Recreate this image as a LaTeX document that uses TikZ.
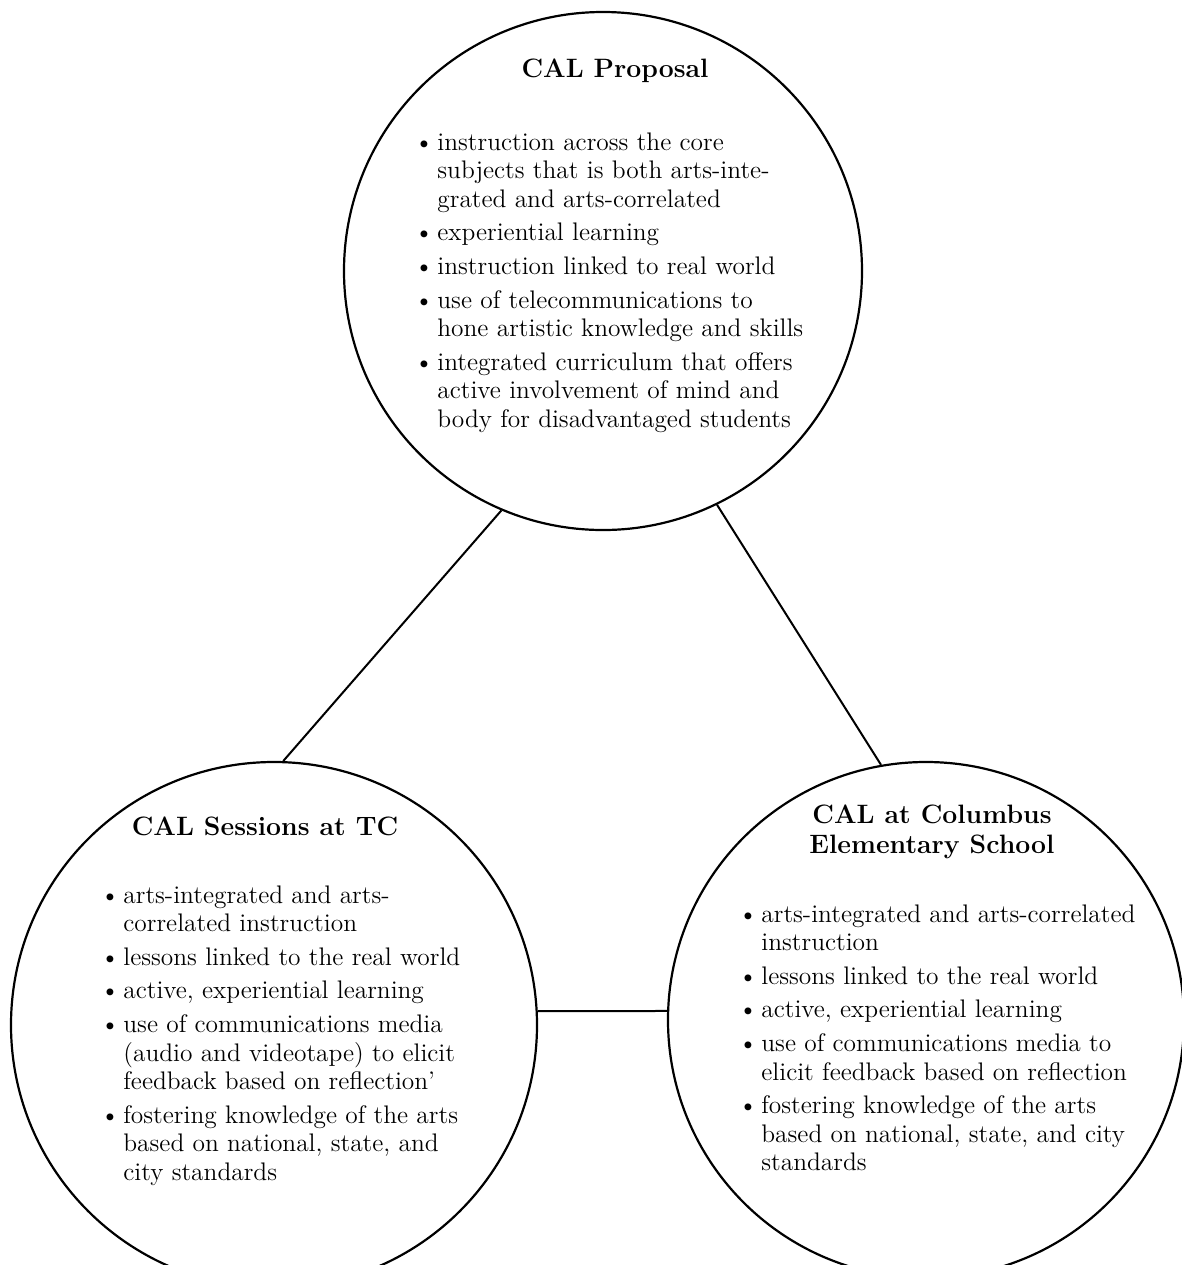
\documentclass[tikz,border=0pt]{standalone}
\begin{document}
\newcommand{\mybul}{\makebox[11.5pt][l]{\textbullet}}
\begin{tikzpicture}[x=0.5pt,y=-0.5pt,
  ring/.style={circle,draw,line width=1.1pt,inner sep=0pt},
  link/.style={line width=1pt},
  title/.style={font=\fontsize{13.3}{15}\selectfont\bfseries,anchor=base,inner sep=0pt},
  list/.style={font=\fontsize{12.7}{14.25}\selectfont,anchor=base west,inner sep=0pt}]
\useasboundingbox (0,0) rectangle (1182,1265);
\node[ring,minimum size=259pt] (top) at (603,271) {};
\node[ring,minimum size=263pt] (bl) at (274,1025) {};
\node[ring,minimum size=258pt] (br) at (926,1020) {};
\draw[link] (top.-113) -- (bl.88);
\draw[link] (top.-64) -- (br.100);
\draw[link] (bl.3) -- (br.178);
\node[title] (toptitle) at (615,77) {CAL Proposal};
\node[title] (bltitle) at (265,835) {CAL Sessions at TC};
\node[title] (brtitle) at (932,823) {\begin{tabular}[t]{@{}c@{}}CAL at Columbus\\ Elementary School\end{tabular}};
\node[list] (toplist) at (414,150) {\begin{tabular}[t]{@{}l@{}l@{}}
\mybul & instruction across the core\\
 & subjects that is both arts-inte-\\
 & grated and arts-correlated\\[2.6pt]
\mybul & experiential learning\\[2.6pt]
\mybul & instruction linked to real world\\[2.6pt]
\mybul & use of telecommunications to\\
 & hone artistic knowledge and skills\\[2.6pt]
\mybul & integrated curriculum that offers\\
 & active involvement of mind and\\
 & body for disadvantaged students
\end{tabular}};
\node[list] (bllist) at (100,903) {\begin{tabular}[t]{@{}l@{}l@{}}
\mybul & arts-integrated and arts-\\
 & correlated instruction\\[2.6pt]
\mybul & lessons linked to the real world\\[2.6pt]
\mybul & active, experiential learning\\[2.6pt]
\mybul & use of communications media\\
 & (audio and videotape) to elicit\\
 & feedback based on reflection'\\[2.6pt]
\mybul & fostering knowledge of the arts\\
 & based on national, state, and\\
 & city standards
\end{tabular}};
\node[list] (brlist) at (738,922) {\begin{tabular}[t]{@{}l@{}l@{}}
\mybul & arts-integrated and arts-correlated\\
 & instruction\\[2.6pt]
\mybul & lessons linked to the real world\\[2.6pt]
\mybul & active, experiential learning\\[2.6pt]
\mybul & use of communications media to\\
 & elicit feedback based on reflection\\[2.6pt]
\mybul & fostering knowledge of the arts\\
 & based on national, state, and city\\
 & standards
\end{tabular}};
\end{tikzpicture}
\end{document}
